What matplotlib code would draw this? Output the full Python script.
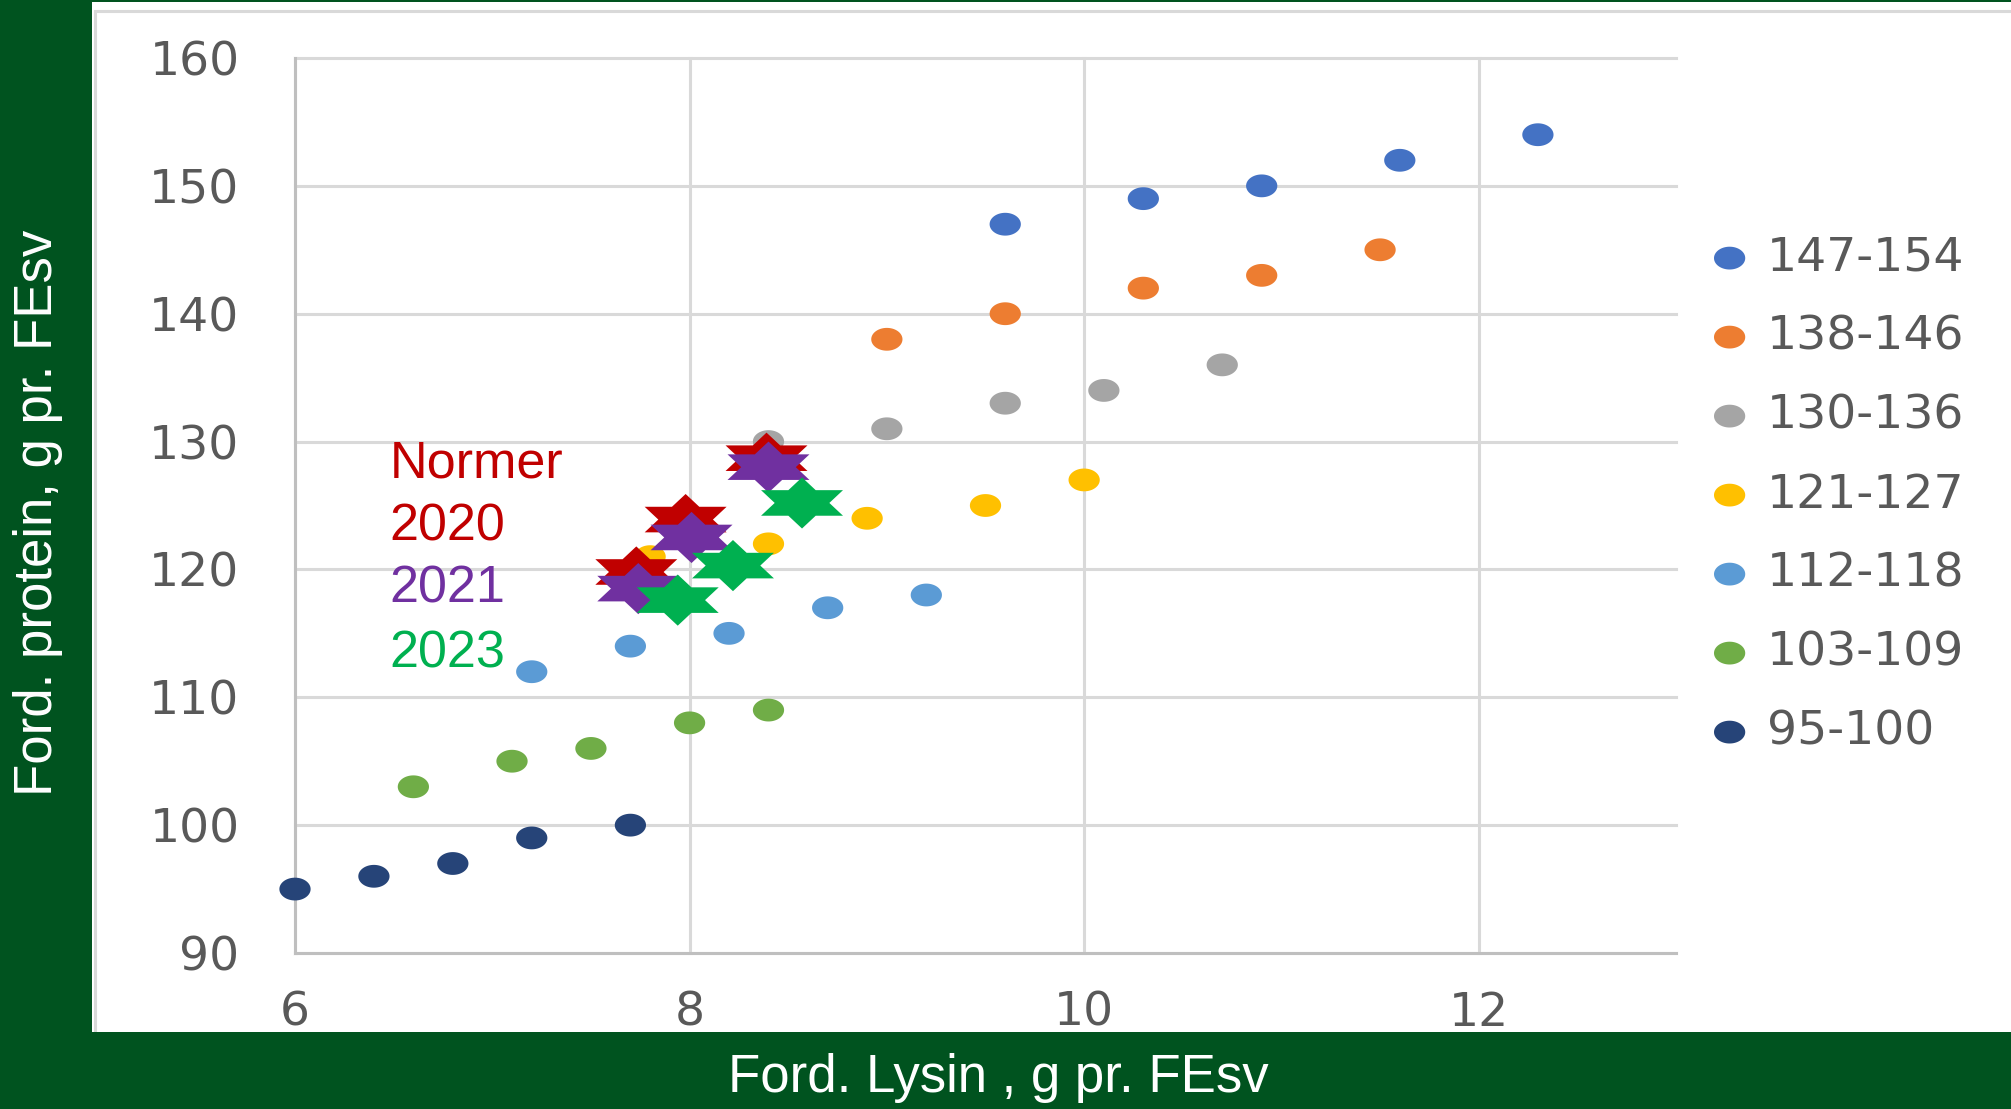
import numpy as np
import matplotlib
matplotlib.use("Agg")
import matplotlib.pyplot as plt
from matplotlib.path import Path
from matplotlib.patches import Rectangle

# ---------------- data ----------------
series_labels = ["147-154", "138-146", "130-136", "121-127", "112-118", "103-109", "95-100"]
series_colors = ["#4472C4", "#ED7D31", "#A5A5A5", "#FFC000", "#5B9BD5", "#70AD47", "#264478"]

x_147_154 = [9.6, 10.3, 10.9, 11.6, 12.3]
y_147_154 = [147, 149, 150, 152, 154]
x_138_146 = [9.0, 9.6, 10.3, 10.9, 11.5]
y_138_146 = [138, 140, 142, 143, 145]
x_130_136 = [8.4, 9.0, 9.6, 10.1, 10.7]
y_130_136 = [130, 131, 133, 134, 136]
x_121_127 = [7.8, 8.4, 8.9, 9.5, 10.0]
y_121_127 = [121, 122, 124, 125, 127]
x_112_118 = [7.2, 7.7, 8.2, 8.7, 9.2]
y_112_118 = [112, 114, 115, 117, 118]
x_103_109 = [6.6, 7.1, 7.5, 8.0, 8.4]
y_103_109 = [103, 105, 106, 108, 109]
x_95_100 = [6.0, 6.4, 6.8, 7.2, 7.7]
y_95_100 = [95, 96, 97, 99, 100]

norm_labels = ["Normer", "2020", "2021", "2023"]
x_normer = [7.73, 7.98, 8.39]
y_normer = [119.8, 123.9, 128.7]
x_2021 = [7.74, 8.01, 8.40]
y_2021 = [118.5, 122.5, 128.0]
x_2023 = [7.94, 8.22, 8.57]
y_2023 = [117.6, 120.3, 125.2]

x_ticks = [6, 8, 10, 12]
y_ticks = [90, 100, 110, 120, 130, 140, 150, 160]

xs = [x_147_154, x_138_146, x_130_136, x_121_127, x_112_118, x_103_109, x_95_100]
ys = [y_147_154, y_138_146, y_130_136, y_121_127, y_112_118, y_103_109, y_95_100]

# ---------------- markers ----------------
t = np.linspace(0, 2 * np.pi, 73)
ellipse = Path(np.column_stack([1.37 * np.cos(t), np.sin(t)]), closed=True)

sx = 1.85
verts = []
for k in range(6):
    a_out = np.deg2rad(90 - 60 * k)
    a_in = np.deg2rad(60 - 60 * k)
    verts.append((sx * np.cos(a_out), np.sin(a_out)))
    verts.append((sx * np.cos(a_in) / np.sqrt(3), np.sin(a_in) / np.sqrt(3)))
verts.append(verts[0])
codes = [Path.MOVETO] + [Path.LINETO] * 11 + [Path.CLOSEPOLY]
star = Path(verts, codes)

# ---------------- figure ----------------
W, H = 2011, 1109
GREEN = "#00531F"
fig = plt.figure(figsize=(W / 100, H / 100), dpi=100)
fig.patch.set_facecolor(GREEN)

fig.add_artist(Rectangle((92 / W, (H - 1032) / H), (W - 92) / W, (1032 - 2) / H,
                         transform=fig.transFigure, facecolor="white", edgecolor="none", zorder=-10))
fig.add_artist(Rectangle((95 / W, (H - 1045) / H), (W + 20 - 95) / W, (1045 - 11) / H,
                         transform=fig.transFigure, facecolor="none", edgecolor="#D9D9D9",
                         linewidth=2.2, zorder=-9))
fig.add_artist(Rectangle((0, 0), 1, (H - 1032) / H, transform=fig.transFigure,
                         facecolor=GREEN, edgecolor="none", zorder=-8))
fig.add_artist(Rectangle((0, 0), 92 / W, 1, transform=fig.transFigure,
                         facecolor=GREEN, edgecolor="none", zorder=-8))

ax = fig.add_axes([295 / W, (H - 953) / H, (1676 - 295) / W, (953 - 58) / H])
ax.patch.set_alpha(0)

ax.set_xlim(6, 13)
ax.set_ylim(90, 160)
ax.set_xticks(x_ticks)
ax.set_yticks(y_ticks)
ax.set_xticklabels([str(v) for v in x_ticks])
ax.set_yticklabels([str(v) for v in y_ticks])
ax.grid(True, color="#D9D9D9", linewidth=2.2, zorder=0)
ax.set_axisbelow(True)
for ln in ax.get_ygridlines() + ax.get_xgridlines():
    ln.set_clip_on(False)
for s in ["top", "right"]:
    ax.spines[s].set_visible(False)
for s in ["left", "bottom"]:
    ax.spines[s].set_color("#BFBFBF")
    ax.spines[s].set_linewidth(2.2)
ax.tick_params(axis="both", length=0, labelsize=34, labelcolor="#595959")
ax.tick_params(axis="x", pad=27)
ax.tick_params(axis="y", pad=40)
for lab in ax.get_xticklabels() + ax.get_yticklabels():
    lab.set_family("DejaVu Sans")

dot_s = 22.5 ** 2
handles = []
for x, y, c, lab in zip(xs, ys, series_colors, series_labels):
    h = ax.scatter(x, y, s=dot_s, marker=ellipse, color=c, edgecolors="none",
                   label=lab, zorder=3, clip_on=False)
    handles.append(h)

star_s = 59 ** 2
ax.scatter(x_normer, y_normer, s=star_s, marker=star, color="#C00000", edgecolors="none", zorder=4)
ax.scatter(x_2021, y_2021, s=star_s, marker=star, color="#7030A0", edgecolors="none", zorder=5)
ax.scatter(x_2023, y_2023, s=star_s, marker=star, color="#00B050", edgecolors="none", zorder=6)

txt_colors = ["#C00000", "#C00000", "#7030A0", "#00B050"]
txt_y = [127.2, 122.3, 117.4, 112.3]
for lab, c, yy in zip(norm_labels, txt_colors, txt_y):
    ax.text(6.48, yy, lab, color=c, fontsize=37.5, family="Liberation Sans",
            ha="left", va="baseline", zorder=7)

leg = ax.legend(handles=handles, loc="center left", bbox_to_anchor=(1706 / W, (H - 495) / H),
                bbox_transform=fig.transFigure, frameon=False, fontsize=34,
                labelspacing=0.72, handlelength=1.0, handletextpad=0.29,
                borderpad=0, borderaxespad=0, scatterpoints=1)
for txt in leg.get_texts():
    txt.set_color("#595959")
    txt.set_family("DejaVu Sans")

fig.text(998 / W, (H - 1078) / H, "Ford. Lysin , g pr. FEsv", color="white",
         fontsize=38, family="Liberation Sans", ha="center", va="center")
fig.text(38 / W, (H - 513) / H, "Ford. protein, g pr. FEsv", color="white",
         fontsize=38, family="Liberation Sans", ha="center", va="center", rotation=90)

fig.savefig("out.png", dpi=100, facecolor=fig.get_facecolor())
